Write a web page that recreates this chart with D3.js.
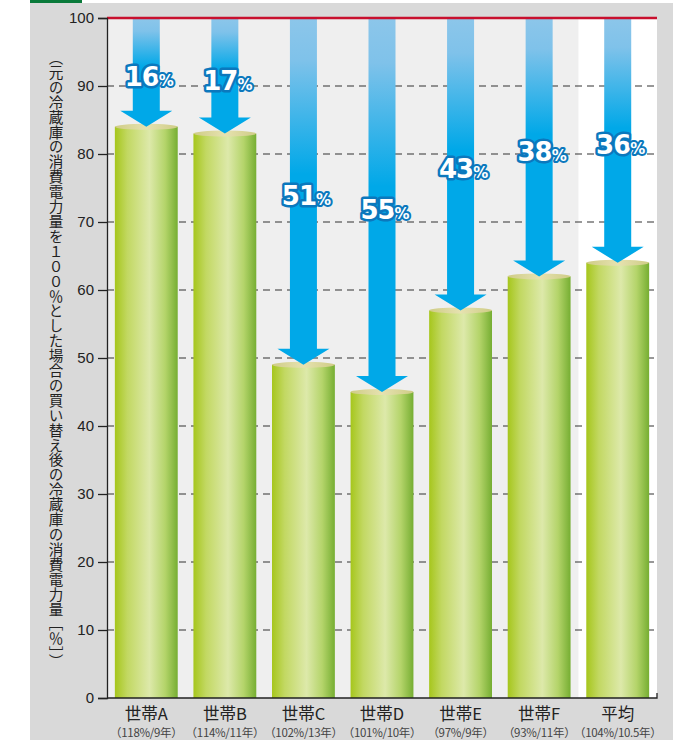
<!DOCTYPE html>
<html>
<head>
<meta charset="utf-8">
<script src="https://cdn.jsdelivr.net/npm/d3@7"></script>
<style>
  html, body { margin: 0; padding: 0; background: #ffffff; }
  svg { display: block; }
</style>
</head>
<body>
<svg id="chart" width="682" height="740"></svg>
<script>
// Households and their after-replacement consumption (% of the old fridge)
const households = ["世帯A", "世帯B", "世帯C", "世帯D", "世帯E", "世帯F", "平均"];
const subLabels = ["（118%/9年）", "（114%/11年）", "（102%/13年）", "（101%/10年）", "（97%/9年）", "（93%/11年）", "（104%/10.5年）"];
const afterValues = [84, 83, 49, 45, 57, 62, 64];
const savingPercents = [16, 17, 51, 55, 43, 38, 36];
const yTicks = [0, 10, 20, 30, 40, 50, 60, 70, 80, 90, 100];
const yTitle = "（元の冷蔵庫の消費電力量を１００％とした場合の買い替え後の冷蔵庫の消費電力量［％］）";

const svg = d3.select("#chart");
const margin = { left: 107, right: 657, top: 18, bottom: 698 };

const jp = "'Noto Sans CJK JP', 'Noto Sans', sans-serif";
const latin = "'Liberation Sans', Arial, sans-serif";

// Panel background and header accent
svg.append("rect").attr("x", 30).attr("y", 3).attr("width", 643).attr("height", 737).attr("fill", "#d9d9d9");
svg.append("rect").attr("x", 30).attr("y", 0).attr("width", 52).attr("height", 3).attr("fill", "#0a7a3a");

const x = d3.scaleBand().domain(households).range([margin.left, margin.right]).paddingInner(0.2).paddingOuter(0.1);
const xStep = d3.scaleBand().domain(households).range([margin.left, margin.right]).padding(0);
const y = d3.scaleLinear().domain([0, 100]).range([margin.bottom, margin.top]);

// Plot area: light grey for households, white for the average column
svg.append("rect").attr("x", margin.left).attr("y", margin.top)
  .attr("width", margin.right - margin.left).attr("height", margin.bottom - margin.top).attr("fill", "#efefef");
svg.append("rect").attr("x", xStep("平均")).attr("y", margin.top)
  .attr("width", xStep.bandwidth()).attr("height", margin.bottom - margin.top).attr("fill", "#ffffff");

// Dashed gridlines
svg.append("g").selectAll("line").data(yTicks.filter(d => d > 0 && d < 100)).join("line")
  .attr("x1", margin.left).attr("x2", margin.right)
  .attr("y1", d => y(d)).attr("y2", d => y(d))
  .attr("stroke", "#333").attr("stroke-width", 1.1).attr("stroke-dasharray", "7,5");

const defs = svg.append("defs");
const barGrad = defs.append("linearGradient").attr("id", "barGrad").attr("x1", 0).attr("x2", 1).attr("y1", 0).attr("y2", 0);
[[0, "#a6c61c"], [0.2, "#c2d862"], [0.55, "#dde9aa"], [0.8, "#b4d46a"], [1, "#76ae32"]]
  .forEach(([o, c]) => barGrad.append("stop").attr("offset", o).attr("stop-color", c));
const capGrad = defs.append("linearGradient").attr("id", "capGrad").attr("x1", 0).attr("x2", 1).attr("y1", 0).attr("y2", 0);
[[0, "#cfcc86"], [0.5, "#e6e2b0"], [1, "#cfcc86"]]
  .forEach(([o, c]) => capGrad.append("stop").attr("offset", o).attr("stop-color", c));
const arrowGrad = defs.append("linearGradient").attr("id", "arrowGrad").attr("x1", 0).attr("x2", 0).attr("y1", 0).attr("y2", 1);
[[0, "#8cc6ea"], [0.12, "#7fc2ea"], [0.45, "#00a8e8"], [1, "#00a8e8"]]
  .forEach(([o, c]) => arrowGrad.append("stop").attr("offset", o).attr("stop-color", c));

const rows = households.map((h, i) => ({ h, v: afterValues[i], p: savingPercents[i], sub: subLabels[i] }));

// Cylinder bars
const bars = svg.append("g");
bars.selectAll("rect").data(rows).join("rect")
  .attr("x", d => x(d.h)).attr("width", x.bandwidth())
  .attr("y", d => y(d.v)).attr("height", d => y(0) - y(d.v))
  .attr("fill", "url(#barGrad)");
bars.selectAll("ellipse").data(rows).join("ellipse")
  .attr("cx", d => x(d.h) + x.bandwidth() / 2).attr("cy", d => y(d.v))
  .attr("rx", x.bandwidth() / 2).attr("ry", 3)
  .attr("fill", "url(#capGrad)");

// Reduction arrows from 100% down to each bar top
const shaftW = 27, headW = 52, headH = 16;
svg.append("g").selectAll("path").data(rows).join("path")
  .attr("d", d => {
    const cx = x(d.h) + x.bandwidth() / 2;
    const top = y(100), tip = y(d.v), neck = tip - headH;
    return `M${cx - shaftW / 2},${top} L${cx + shaftW / 2},${top} L${cx + shaftW / 2},${neck} L${cx + headW / 2},${neck} L${cx},${tip} L${cx - headW / 2},${neck} L${cx - shaftW / 2},${neck} Z`;
  })
  .attr("fill", "url(#arrowGrad)");

// Reduction labels
const labels = svg.append("g").selectAll("text").data(rows).join("text")
  .attr("x", d => x(d.h) + x.bandwidth() / 2 + 3)
  .attr("y", d => (y(100) + y(d.v)) / 2 + 14)
  .attr("text-anchor", "middle")
  .attr("font-family", "'DejaVu Sans', 'Liberation Sans', sans-serif").attr("font-weight", "bold")
  .attr("fill", "#ffffff").attr("stroke", "#0b78bd").attr("stroke-width", 5)
  .attr("stroke-linejoin", "round").attr("paint-order", "stroke");
labels.append("tspan").attr("font-size", 26).attr("letter-spacing", "-1px").text(d => d.p);
labels.append("tspan").attr("font-size", 15).attr("stroke-width", 4).text("%");

// Top red reference line
svg.append("line").attr("x1", margin.left).attr("x2", margin.right)
  .attr("y1", y(100)).attr("y2", y(100)).attr("stroke", "#c8102e").attr("stroke-width", 2.6);

// Y axis
const yAxis = svg.append("g").attr("transform", `translate(${margin.left},0)`)
  .call(d3.axisLeft(y).tickValues(yTicks).tickSize(9).tickPadding(4));
yAxis.select(".domain").attr("stroke", "#222").attr("stroke-width", 1.3);
yAxis.selectAll(".tick line").attr("stroke", "#222").attr("stroke-width", 1.3);
yAxis.selectAll(".tick text").attr("font-family", latin).attr("font-size", 15).attr("fill", "#222");

// X baseline with small end tick
svg.append("path")
  .attr("d", `M${margin.left},${y(0)} L${margin.right},${y(0)} L${margin.right},${y(0) - 5}`)
  .attr("fill", "none").attr("stroke", "#222").attr("stroke-width", 1.3);

// Category labels
const xl = svg.append("g");
xl.selectAll("text.main").data(rows).join("text").attr("class", "main")
  .attr("x", d => x(d.h) + x.bandwidth() / 2).attr("y", 719.5)
  .attr("text-anchor", "middle").attr("font-family", jp).attr("font-size", 16.5).attr("fill", "#222")
  .text(d => d.h);
xl.selectAll("text.sub").data(rows).join("text").attr("class", "sub")
  .attr("x", d => x(d.h) + x.bandwidth() / 2).attr("y", 736.5)
  .attr("text-anchor", "middle").attr("font-family", jp).attr("font-size", 11.5).attr("fill", "#444")
  .attr("letter-spacing", "-0.3px")
  .text(d => d.sub);

// Vertical axis title in vertical writing mode, one tspan per character
svg.append("text")
  .attr("x", 56).attr("y", 50)
  .attr("font-family", jp).attr("font-size", 14.6).attr("fill", "#222")
  .attr("letter-spacing", "0.3px")
  .style("writing-mode", "vertical-rl")
  .selectAll("tspan").data(Array.from(yTitle)).join("tspan")
  .text(c => c);
</script>
</body>
</html>
